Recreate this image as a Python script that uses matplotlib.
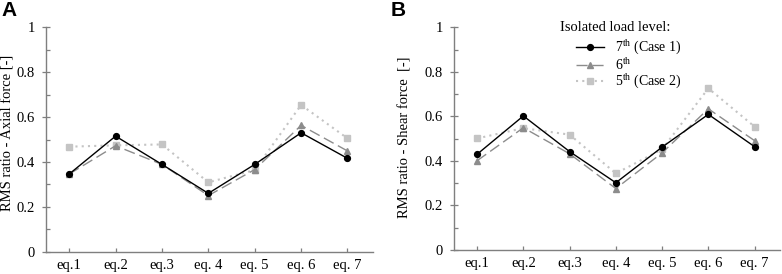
import matplotlib
matplotlib.use("Agg")
import matplotlib.pyplot as plt
from matplotlib.ticker import FixedLocator

plt.rcParams['font.family'] = ['Liberation Serif', 'DejaVu Serif']
plt.rcParams['mathtext.fontset'] = 'custom'
plt.rcParams['mathtext.rm'] = 'Liberation Serif'
plt.rcParams['mathtext.it'] = 'Liberation Serif:italic'

categories = ["eq.1", "eq.2", "eq.3", "eq. 4", "eq. 5", "eq. 6", "eq. 7"]

axial_7th = [0.346, 0.515, 0.389, 0.260, 0.389, 0.530, 0.416]
axial_6th = [0.346, 0.472, 0.389, 0.250, 0.366, 0.563, 0.449]
axial_5th = [0.468, 0.474, 0.478, 0.309, 0.364, 0.654, 0.505]

shear_7th = [0.430, 0.602, 0.442, 0.302, 0.462, 0.609, 0.464]
shear_6th = [0.401, 0.549, 0.432, 0.276, 0.436, 0.634, 0.491]
shear_5th = [0.501, 0.547, 0.518, 0.344, 0.452, 0.726, 0.554]

series_labels = ["7$^{\\rm th}$ (Case 1)", "6$^{\\rm th}$", "5$^{\\rm th}$ (Case 2)"]
ylabels = ["RMS ratio - Axial force [-]", "RMS ratio - Shear force  [-]"]
panel_letters = ["A", "B"]
legend_title = "Isolated load level:"

W, H = 782, 274
FS = 10
fig = plt.figure(figsize=(W / 100, H / 100), dpi=100)

axA = fig.add_axes([46 / W, (H - 251.7) / H, 327 / W, 224.4 / H])
axB = fig.add_axes([454 / W, (H - 250.0) / H, 326 / W, 222.7 / H])

styles = [
    dict(color='black', linestyle='-', marker='o', markersize=4.2, linewidth=1.0),
    dict(color='#8c8c8c', linestyle=(0, (8, 3.5)), marker='^', markersize=4.2, linewidth=1.0),
    dict(color='#c4c4c4', linestyle=(0, (1, 2)), marker='s', markersize=4.2, linewidth=1.5),
]

x = list(range(1, len(categories) + 1))

for ax, data in [(axA, [axial_7th, axial_6th, axial_5th]),
                 (axB, [shear_7th, shear_6th, shear_5th])]:
    for vals, st, lab in reversed(list(zip(data, styles, series_labels))):
        ax.plot(x, vals, label=lab, clip_on=False, **st)
    ax.set_xlim(0.5, 7.55)
    ax.set_ylim(0, 1)
    ax.yaxis.set_major_locator(FixedLocator([0, 0.2, 0.4, 0.6, 0.8, 1.0]))
    ax.set_yticklabels(["0", "0.2", "0.4", "0.6", "0.8", "1"])
    ax.yaxis.set_minor_locator(FixedLocator([0.1, 0.3, 0.5, 0.7, 0.9]))
    ax.set_xticks(x)
    ax.set_xticklabels(categories)
    for s in ['top', 'right']:
        ax.spines[s].set_visible(False)
    for s in ['left', 'bottom']:
        ax.spines[s].set_color('#7f7f7f')
        ax.spines[s].set_linewidth(1.0)
    ax.tick_params(axis='y', which='major', direction='inout', length=6, width=0.9,
                   color='#7f7f7f', labelsize=10.5, pad=5)
    ax.tick_params(axis='y', which='minor', direction='in', length=3, width=0.9, color='#7f7f7f')
    ax.tick_params(axis='x', which='major', direction='in', length=3, width=0.9,
                   color='#7f7f7f', labelsize=10.5, pad=5)

# Y labels placed explicitly
fig.text(7.5 / W, 1 - 133 / H, ylabels[0], rotation=90, fontsize=10.5, ha='center', va='center')
fig.text(405 / W, 1 - 137 / H, ylabels[1], rotation=90, fontsize=10.5, ha='center', va='center')

# Panel letters
fig.text(1 / W, 1 - 1 / H, panel_letters[0], fontsize=15, fontweight='bold',
         family='Liberation Sans', ha='left', va='top')
fig.text(391 / W, 1 - 1 / H, panel_letters[1], fontsize=15, fontweight='bold',
         family='Liberation Sans', ha='left', va='top')

# Legend in panel B
hs, ls = axB.get_legend_handles_labels()
order = [2, 1, 0]
axB.legend([hs[i] for i in order], [ls[i] for i in order],
           loc='upper left', bbox_to_anchor=((576 - 454) / 326, (250 - 39) / 222.7),
           frameon=False, fontsize=FS, handlelength=2.0, handletextpad=0.8,
           labelspacing=0.0, borderpad=0, borderaxespad=0, numpoints=1)
axB.text((560 - 454) / 326, (250 - 27.5) / 222.7, legend_title, transform=axB.transAxes,
         fontsize=10.5, ha='left', va='center')

fig.savefig("out.png", dpi=100)
